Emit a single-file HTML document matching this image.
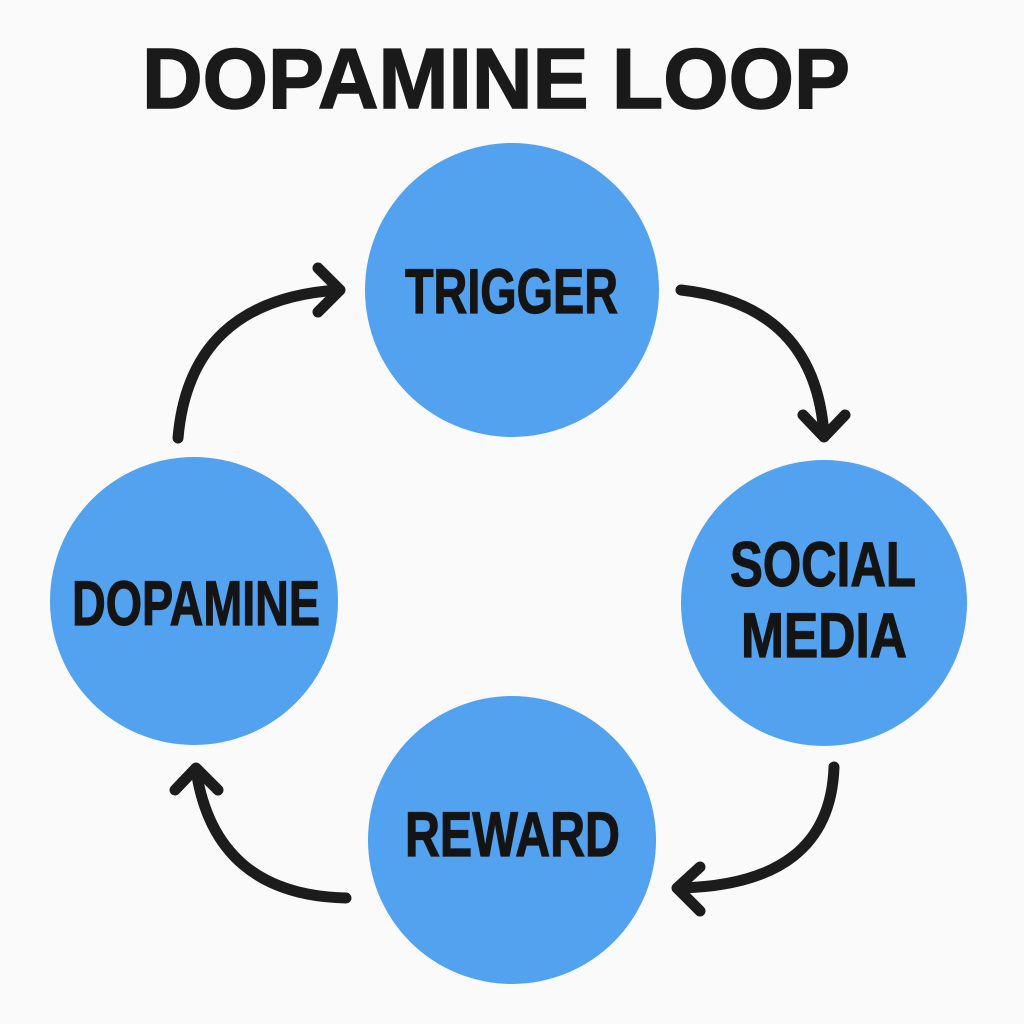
<!DOCTYPE html>
<html><head><meta charset="utf-8"><style>
html,body{margin:0;padding:0;background:#fafafa;}
svg{display:block;}
</style></head><body>
<svg width="1024" height="1024" viewBox="0 0 1024 1024" xmlns="http://www.w3.org/2000/svg">
<rect width="1024" height="1024" fill="#fafafa"/>
<text x="142" y="108" font-family="Liberation Sans, sans-serif" font-weight="bold" font-size="85" fill="#1a1a1a" stroke="#1a1a1a" stroke-width="1.5" textLength="708" lengthAdjust="spacingAndGlyphs">DOPAMINE LOOP</text>
<g fill="#52a2f0">
<circle cx="512" cy="290" r="147"/>
<circle cx="824" cy="603" r="143"/>
<circle cx="512" cy="840" r="144"/>
<circle cx="194" cy="601" r="144"/>
</g>
<g font-family="Liberation Sans, sans-serif" font-weight="bold" font-size="63" fill="#141414" stroke="#141414" stroke-width="1.2">
<text x="405" y="313" textLength="213" lengthAdjust="spacingAndGlyphs">TRIGGER</text>
<text x="730" y="586" textLength="186" lengthAdjust="spacingAndGlyphs">SOCIAL</text>
<text x="741" y="657" textLength="166" lengthAdjust="spacingAndGlyphs">MEDIA</text>
<text x="405" y="856" textLength="215" lengthAdjust="spacingAndGlyphs">REWARD</text>
<text x="72" y="625" textLength="248" lengthAdjust="spacingAndGlyphs">DOPAMINE</text>
</g>
<g fill="none" stroke="#1c1c1c" stroke-width="11" stroke-linecap="round" stroke-linejoin="round">
<path d="M178 438 Q190 300 338 290"/>
<path d="M318 268 L340 290 L318 312"/>
<path d="M681 290 Q815 305 824 435"/>
<path d="M803 415 L824 437 L845 415"/>
<path d="M834 767 Q830 885 679 888"/>
<path d="M700 867 L677 888 L700 911"/>
<path d="M346 898 Q215 895 196 770"/>
<path d="M175 790 L196 768 L218 790"/>
</g>
</svg>
</body></html>
